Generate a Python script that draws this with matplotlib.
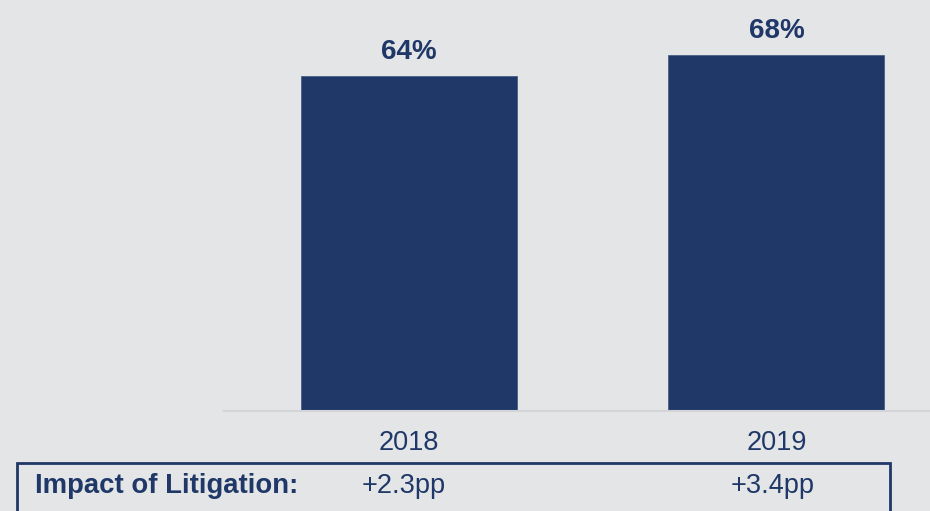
import matplotlib.pyplot as plt
from matplotlib.patches import Rectangle

years = ["2018", "2019"]
share = [64, 68]
value_labels = ["64%", "68%"]
impact_title = "Impact of Litigation:"
impact = ["+2.3pp", "+3.4pp"]

navy = "#1f3868"
bg = "#e4e5e7"
plt.rcParams['font.family'] = ['Liberation Sans', 'DejaVu Sans']

W, H = 930, 511
fig = plt.figure(figsize=(W / 100, H / 100), dpi=100, facecolor=bg)
# axes in pixel terms: left edge 224, baseline at y=410.7 from top
ax = fig.add_axes([224 / W, (H - 410.7) / H, 1 - 224 / W, 410.7 / H])
ax.set_facecolor(bg)

x = range(len(years))
ax.bar(x, share, width=0.588, color=navy, edgecolor="#4a5f88", linewidth=0.6)
ax.set_xlim(-0.503, 1.418)
ax.set_ylim(0, 78.5)

for i, v in enumerate(share):
    ax.text(i, v + 2.0, value_labels[i], ha="center", va="bottom",
            fontsize=20, fontweight="bold", color=navy)

ax.set_yticks([])
ax.set_xticks(list(x))
ax.set_xticklabels(years, fontsize=19.5, color=navy)
ax.tick_params(axis="x", length=0, pad=14)
for s in ["top", "right", "left"]:
    ax.spines[s].set_visible(False)
ax.spines["bottom"].set_color("#d2d4d7")
ax.spines["bottom"].set_linewidth(1.5)

# impact box at the bottom
fig.patches.append(Rectangle((17 / W, -0.05), (890 - 17) / W, (H - 463.5) / H + 0.05,
                             transform=fig.transFigure, fill=False,
                             edgecolor=navy, linewidth=2))
ty = (H - 486) / H
fig.text(35 / W, ty, impact_title, ha="left", va="center", fontsize=19.8,
         fontweight="bold", color=navy)
for i, t in enumerate(impact):
    xd = ax.transData.transform((i, 0))[0]
    fig.text(xd / W - 0.006 + 0.002 * i, ty, t, ha="center", va="center",
             fontsize=19.5, color=navy)

fig.savefig("out.png", dpi=100, facecolor=bg)
